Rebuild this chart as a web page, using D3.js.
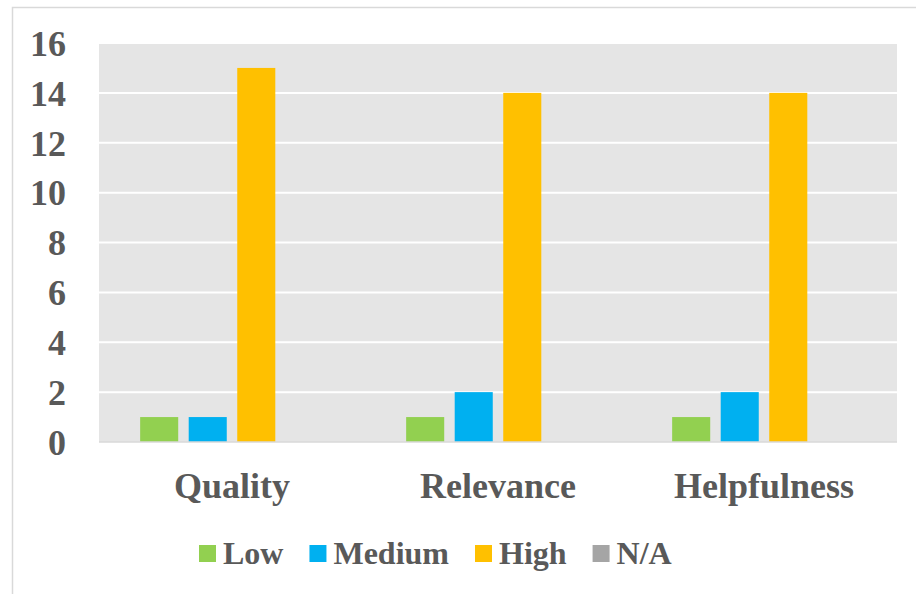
<!DOCTYPE html>
<html>
<head>
<meta charset="utf-8">
<script src="https://cdn.jsdelivr.net/npm/d3@7"></script>
<style>
  html, body { margin: 0; padding: 0; background: #fff; }
  svg { display: block; }
</style>
</head>
<body>
<svg id="chart" width="916" height="594"></svg>
<script>
const categories = ["Quality", "Relevance", "Helpfulness"];
const seriesNames = ["Low", "Medium", "High", "N/A"];
const lowValues = [1, 1, 1];
const mediumValues = [1, 2, 2];
const highValues = [15, 14, 14];
const naValues = [0, 0, 0];
const yTicks = [0, 2, 4, 6, 8, 10, 12, 14, 16];
const colors = ["#92d050", "#00b0f0", "#ffc000", "#a5a5a5"];

const seriesValues = [lowValues, mediumValues, highValues, naValues];
const data = categories.map((c, i) => ({
  category: c,
  values: seriesNames.map((s, j) => ({ series: s, value: seriesValues[j][i], color: colors[j] }))
}));

const svg = d3.select("#chart");
const font = "'Liberation Serif', 'Times New Roman', serif";
const textColor = "#595959";

// outer chart border
svg.append("rect")
  .attr("x", 12.5).attr("y", 7.5)
  .attr("width", 930).attr("height", 620)
  .attr("fill", "#fff").attr("stroke", "#d9d9d9").attr("stroke-width", 1.5);

const plot = { left: 99, right: 897, top: 43, bottom: 442 };

const y = d3.scaleLinear().domain([0, 16]).range([plot.bottom, plot.top]);
const x0 = d3.scaleBand().domain(categories).range([plot.left, plot.right])
  .paddingInner(0.27).paddingOuter(0.135);
const x1 = d3.scaleBand().domain(seriesNames).range([0, x0.bandwidth()])
  .paddingInner(0.216).paddingOuter(0.108);

// plot background
svg.append("rect")
  .attr("x", plot.left).attr("y", plot.top)
  .attr("width", plot.right - plot.left).attr("height", plot.bottom - plot.top)
  .attr("fill", "#e5e5e5");

// gridlines
svg.append("g").selectAll("line")
  .data(yTicks.filter(t => t > 0))
  .join("line")
  .attr("x1", plot.left).attr("x2", plot.right)
  .attr("y1", d => y(d)).attr("y2", d => y(d))
  .attr("stroke", "#ffffff").attr("stroke-width", 2);

// bars
const groups = svg.append("g").selectAll("g")
  .data(data).join("g")
  .attr("transform", d => `translate(${x0(d.category)},0)`);
groups.selectAll("rect")
  .data(d => d.values).join("rect")
  .attr("x", d => x1(d.series))
  .attr("width", x1.bandwidth())
  .attr("y", d => y(d.value))
  .attr("height", d => y(0) - y(d.value))
  .attr("fill", d => d.color);

// baseline axis line
svg.append("line")
  .attr("x1", plot.left).attr("x2", plot.right)
  .attr("y1", y(0)).attr("y2", y(0))
  .attr("stroke", "#d9d9d9").attr("stroke-width", 1.5);

// y axis labels
const yAxis = d3.axisLeft(y).tickValues(yTicks).tickSize(0).tickPadding(0);
const yg = svg.append("g").attr("transform", `translate(66,0)`).call(yAxis);
yg.select(".domain").remove();
yg.selectAll("text")
  .attr("font-family", font).attr("font-weight", "bold").attr("font-size", 36)
  .attr("fill", textColor).attr("dy", "0.34em").attr("x", 0);

// x axis labels
const xAxis = d3.axisBottom(x0).tickSize(0).tickPadding(0);
const xg = svg.append("g").attr("transform", `translate(0,498)`).call(xAxis);
xg.select(".domain").remove();
xg.selectAll("text")
  .attr("font-family", font).attr("font-weight", "bold").attr("font-size", 36)
  .attr("fill", textColor).attr("dy", 0).attr("y", 0);

// legend
const legend = svg.append("g");
let lx = 199;
seriesNames.forEach((s, i) => {
  legend.append("rect")
    .attr("x", lx).attr("y", 545).attr("width", 17).attr("height", 17)
    .attr("fill", colors[i]);
  const t = legend.append("text")
    .attr("x", lx + 24).attr("y", 564)
    .attr("font-family", font).attr("font-weight", "bold").attr("font-size", 32)
    .attr("fill", textColor).text(s);
  lx += 24 + t.node().getComputedTextLength() + 26;
});
</script>
</body>
</html>
